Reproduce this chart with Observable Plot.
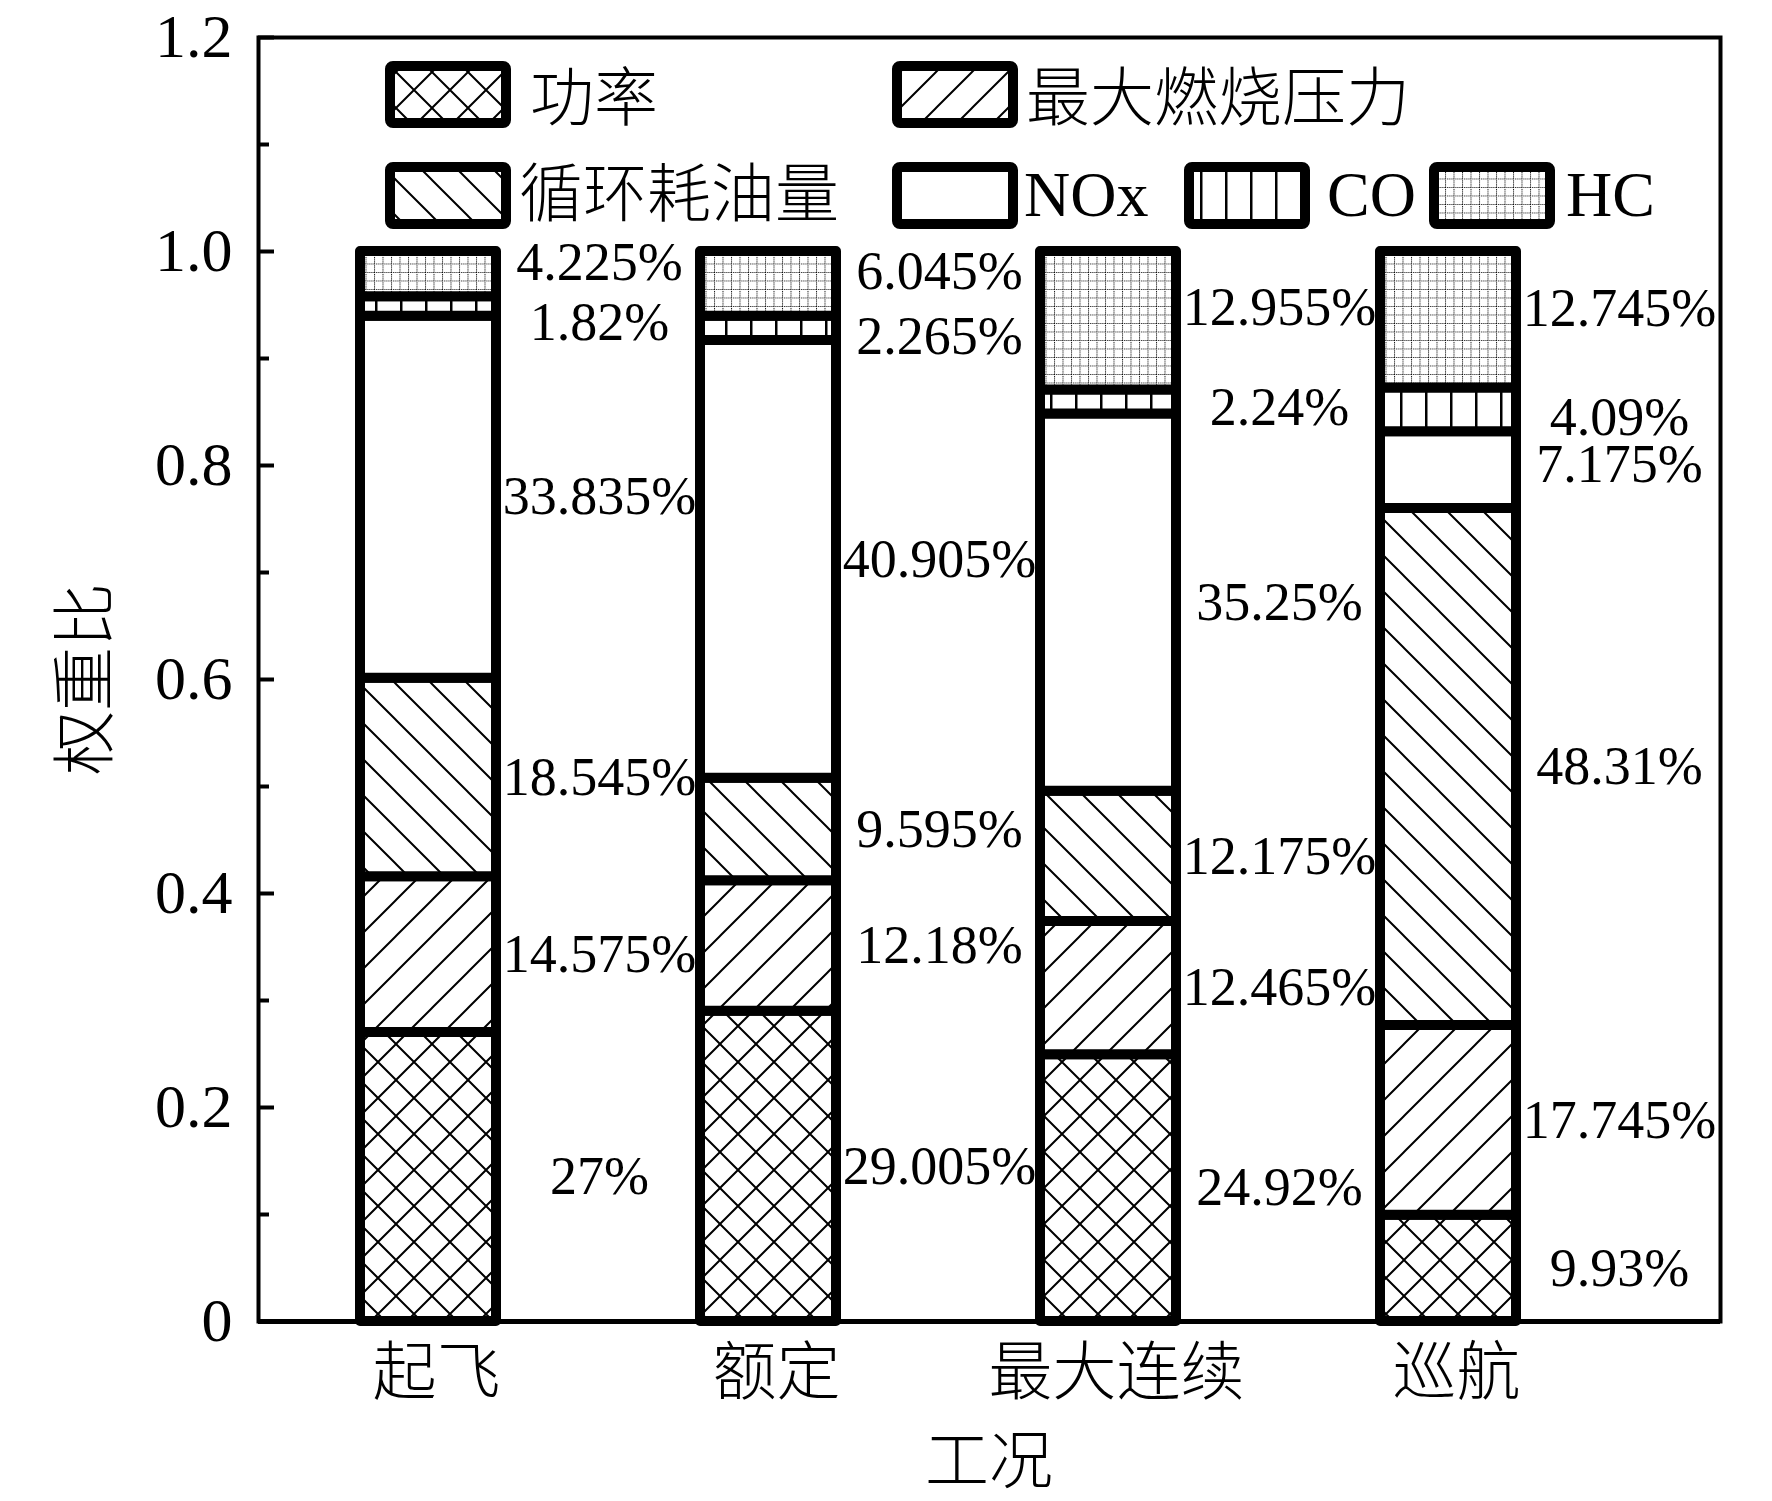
<!DOCTYPE html>
<html><head><meta charset="utf-8">
<script src="https://cdn.jsdelivr.net/npm/d3@7"></script>
<script src="https://cdn.jsdelivr.net/npm/@observablehq/plot@0.6"></script>
<style>html,body{margin:0;padding:0;background:#fff}</style>
</head><body><div id="chart"></div>
<script>
// ---------- data ----------
const categories = ["起飞", "额定", "最大连续", "巡航"];
const seriesNames = ["功率", "最大燃烧压力", "循环耗油量", "NOx", "CO", "HC"];
const power        = [27, 29.005, 24.92, 9.93];
const maxPressure  = [14.575, 12.18, 12.465, 17.745];
const fuelPerCycle = [18.545, 9.595, 12.175, 48.31];
const nox          = [33.835, 40.905, 35.25, 7.175];
const co           = [1.82, 2.265, 2.24, 4.09];
const hc           = [4.225, 6.045, 12.955, 12.745];
const yMajorTicks  = [0, 0.2, 0.4, 0.6, 0.8, 1.0, 1.2];
const yTickLabels  = ["0", "0.2", "0.4", "0.6", "0.8", "1.0", "1.2"];
const yMinorTicks  = [0.1, 0.3, 0.5, 0.7, 0.9, 1.1];
const xTitle = "工况";
const yTitle = "权重比";

// ---------- label placement tweaks (data units, + = up) ----------
const labelShift = [
  [0, 0, 0, 0, -0.015, 0.011],
  [0, 0, 0, 0, -0.0075, 0.011],
  [0, 0, 0, 0, -0.005, 0.012],
  [0, 0, 0, 0.005, -0.0075, 0.010]
];

const seriesValues = [power, maxPressure, fuelPerCycle, nox, co, hc];
const rows = [];
categories.forEach((cat, ci) => {
  let acc = 0;
  seriesValues.forEach((vals, si) => {
    const v = vals[ci] / 100;
    rows.push({cat, series: seriesNames[si], value: v, label: `${vals[ci]}%`,
               mid: acc + v / 2 + labelShift[ci][si]});
    acc += v;
  });
});

const patIds = seriesNames.map((d, i) => `url(#pat${i})`);
const FONT = '"Liberation Serif", "Times New Roman", "Noto Sans CJK SC", serif';

const svg = Plot.plot({
  width: 1772, height: 1501,
  marginLeft: 258, marginRight: 52, marginTop: 37, marginBottom: 180,
  style: {fontFamily: FONT, background: "white", color: "black", overflow: "visible"},
  x: {domain: categories, range: [257, 1619], paddingInner: 0.6, paddingOuter: 0.3, axis: null},
  y: {domain: [0, 1.2], axis: null, label: null},
  color: {domain: seriesNames, range: patIds},
  marks: [
    Plot.barY(rows, Plot.stackY({x: "cat", y: "value", fill: "series", order: null,
      stroke: "black", strokeWidth: 10, strokeLinejoin: "round"})),
    Plot.text(rows, {x: "cat", y: "mid", text: "label", dx: 171, fontSize: 54, fill: "black"}),
    Plot.tickY(yMajorTicks, {y: d => d, insetRight: 1462 - 16, strokeWidth: 4, stroke: "black"}),
    Plot.tickY(yMinorTicks, {y: d => d, insetRight: 1462 - 11, strokeWidth: 4, stroke: "black"}),
    Plot.axisY(yMajorTicks, {tickSize: 0, tickPadding: 26, fontSize: 62, label: null,
      tickFormat: d => yTickLabels[yMajorTicks.indexOf(d)]}),
    Plot.text(categories, {x: d => d, frameAnchor: "bottom", dy: 72, dx: 8, fontSize: 64,
      fontWeight: 300, fill: "black"}),
    Plot.frame({stroke: "black", strokeWidth: 4}),
    Plot.ruleY([0], {stroke: "black", strokeWidth: 5})
  ]
});

// ---------- hatch patterns ----------
const defs = d3.select(svg).insert("defs", ":first-child");
function pat(id, w, h, build) {
  const p = defs.append("pattern").attr("id", id)
    .attr("patternUnits", "userSpaceOnUse").attr("width", w).attr("height", h);
  p.append("rect").attr("width", w).attr("height", h).attr("fill", "white");
  build(p);
}
const line = (p, d, sw, extra) => {
  const e = p.append("path").attr("d", d).attr("fill", "none").attr("stroke", "black").attr("stroke-width", sw);
  if (extra) e.attr("stroke-dasharray", extra);
};
pat("pat0", 36, 36, p => line(p, "M-4,-4L40,40M40,-4L-4,40", 2));                 // crosshatch
pat("pat1", 36, 36, p => line(p, "M-4,40L40,-4M-4,4L4,-4M32,40L40,32", 2));        // forward
pat("pat2", 36, 36, p => line(p, "M-4,-4L40,40M32,-4L40,4M-4,32L4,40", 2));        // back
pat("pat3", 10, 10, p => {});                                                       // white
pat("pat4", 25, 10, p => line(p, "M1.25,-1V11", 2.5));                              // vertical
pat("pat5", 8.5, 8.5, p => line(p, "M0,0.5H8.5M0.5,0V8.5", 1, "1,1"));             // dotted grid

const root = d3.select(svg);

// ---------- axis titles ----------
const plotW = 1772, mL = 258, mR = 52, mT = 37, mB = 180, plotH = 1501;
root.append("text")
  .attr("transform", `translate(${(mL + plotW - mR) / 2},${plotH - mB + 140})`)
  .attr("text-anchor", "middle").attr("dominant-baseline", "central")
  .attr("font-size", 64).attr("font-weight", 300).attr("font-family", FONT).attr("fill", "black")
  .text(xTitle);
root.append("text")
  .attr("transform", `translate(85,${(mT + plotH - mB) / 2}) rotate(-90)`)
  .attr("text-anchor", "middle").attr("dominant-baseline", "central")
  .attr("font-size", 64).attr("font-weight", 300).attr("font-family", FONT).attr("fill", "black")
  .text(yTitle);

// ---------- legend ----------
const legendLayout = [
  {x: 390, y: 66, tx: 530, ty: 98},
  {x: 897, y: 66, tx: 1026, ty: 98},
  {x: 390, y: 167, tx: 519, ty: 194},
  {x: 897, y: 167, tx: 1024, ty: 194},
  {x: 1189, y: 167, tx: 1327, ty: 194},
  {x: 1434, y: 167, tx: 1566, ty: 194}
];
const lg = root.append("g");
seriesNames.forEach((name, i) => {
  const L = legendLayout[i];
  lg.append("rect").attr("x", L.x).attr("y", L.y).attr("width", 116).attr("height", 57)
    .attr("rx", 3).attr("fill", patIds[i]).attr("stroke", "black").attr("stroke-width", 10)
    .attr("stroke-linejoin", "round");
  lg.append("text").attr("x", L.tx).attr("y", L.ty).attr("dominant-baseline", "central")
    .attr("text-anchor", "start").attr("font-weight", 300)
    .attr("font-size", 64).attr("font-family", FONT).attr("fill", "black").text(name);
});

document.getElementById("chart").appendChild(svg);
</script>
</body></html>
